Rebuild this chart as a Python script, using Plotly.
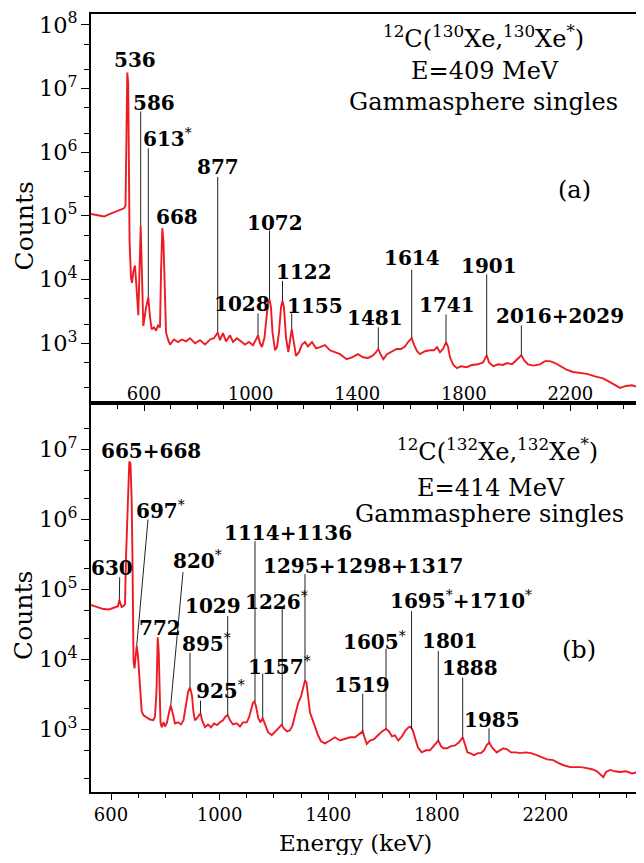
import numpy as np
import plotly.graph_objects as go

# ---------------- Panel (a): 12C(130Xe,130Xe*) spectrum (energy keV, log10 counts) -------------
top_energy = [401.1, 434.9, 450, 472.4, 502.4, 525, 530.6, 533.2, 535.1, 537.3, 540.7, 543, 544.8,
              545.9, 551.2, 555, 560.6, 566.2, 571.9, 578.6, 587.6, 592.5, 597.4, 607.5, 616.1, 622.5,
              628.9, 637.5, 645, 652.5, 660, 663.8, 668.7, 673.2, 676.9, 682.6, 690, 697.6, 712.6,
              727.6, 742.6, 757.6, 772.6, 791.4, 810.1, 828.9, 847.7, 862.7, 876.5, 885.2, 896.4,
              907.7, 922.7, 934, 949, 964, 979, 994, 1009, 1020.3, 1027.8, 1035.3, 1042.8, 1052.2,
              1059.7, 1065.3, 1070.9, 1076.5, 1082.2, 1091.6, 1099, 1106.6, 1114, 1119.7, 1125.3,
              1132.8, 1141.5, 1149, 1154.2, 1161, 1170.4, 1181.6, 1192.9, 1204.1, 1215.4, 1230.4,
              1245.4, 1260.4, 1279.2, 1297.9, 1316.7, 1335.5, 1360.6, 1380.5, 1403, 1421.8, 1440.5,
              1459.3, 1470.6, 1479.2, 1487.4, 1498, 1511.8, 1526.8, 1548.2, 1564.4, 1579.4, 1590.6,
              1604.5, 1613.1, 1624.4, 1635.6, 1654.4, 1673.2, 1688.2, 1699.4, 1710.7, 1722, 1733.2,
              1740.7, 1748.2, 1760.6, 1774.5, 1789.5, 1810.9, 1830.8, 1853.3, 1872.1, 1885.9,
              1894.6, 1910.7, 1928.3, 1947.1, 1962.1, 1980.9, 1995.9, 2016, 2027, 2041, 2060.8,
              2086, 2104.7, 2123.5, 2142.2, 2161, 2183.5, 2209.8, 2236, 2262.3, 2292.3, 2322.3,
              2348.6, 2371.1, 2386.1, 2408.6, 2431.1, 2453.7, 2476]
top_log_counts = [5.03, 5.00, 4.99, 5.03, 5.08, 5.12, 5.16, 5.98, 6.92, 7.25, 7.08, 6.30, 5.20,
                  4.58, 4.03, 3.95, 4.14, 4.22, 3.875, 3.44, 4.84, 3.80, 3.27, 3.56, 3.72, 3.41,
                  3.22, 3.25, 3.20, 3.28, 3.25, 4.11, 4.81, 4.58, 3.80, 3.17, 3.06, 2.98, 3.06,
                  3.02, 3.06, 3.03, 3.08, 3.00, 3.05, 2.98, 3.06, 3.08, 3.17, 3.05, 3.16,
                  3.03, 3.125, 3.02, 3.08, 3.03, 2.98, 3.02, 2.97, 3.06, 3.125, 3.00, 2.94, 3.09,
                  3.41, 3.64, 3.69, 3.56, 3.17, 2.89, 2.94, 3.17, 3.56, 3.67, 3.56,
                  3.09, 2.86, 3.09, 3.22, 3.05, 2.80, 2.86, 2.98, 3.02, 2.95, 3.02,
                  2.92, 2.94, 2.97, 2.89, 2.86, 2.83, 2.75, 2.78, 2.83, 2.78, 2.77,
                  2.81, 2.86, 2.91, 2.83, 2.75, 2.83, 2.86, 2.91, 2.91, 2.95, 3.02,
                  3.08, 2.98, 2.875, 2.83, 2.875, 2.89, 2.89, 2.94, 2.86, 2.91, 3.016,
                  2.95, 2.78, 2.66, 2.61, 2.64, 2.625, 2.66, 2.67, 2.70, 2.81,
                  2.70, 2.64, 2.67, 2.66, 2.69, 2.67, 2.73, 2.81, 2.73, 2.67, 2.65,
                  2.67, 2.72, 2.72, 2.69, 2.64, 2.59, 2.55, 2.53, 2.52, 2.48, 2.45,
                  2.39, 2.33, 2.30, 2.33, 2.34, 2.31, 2.34]

top_labels = ["536", "586", "613<sup>*</sup>", "877", "668", "1072", "1122", "1028", "1155",
              "1481", "1614", "1741", "1901", "2016+2029"]
top_label_energy = [564.4, 637.5, 690, 877.7, 723.8, 1091.6, 1198.5, 967.7, 1241.7,
                    1466.8, 1605.6, 1735.1, 1894.6, 2161]
top_label_log = [7.445, 6.766, 6.22, 5.77, 4.99, 4.89, 4.125, 3.61, 3.586,
                 3.40, 4.336, 3.60, 4.22, 3.43]
top_mark_energy = [587.6, 616.1, 876.5, 1070.9, 1119.7, 1027.8, 1154.2, 1479.2, 1604.5,
                   1733.2, 1885.9, 2016]
top_mark_top = [6.64, 6.06, 5.61, 4.77, 3.98, 3.47, 3.47, 3.25, 4.156, 3.453, 4.08, 3.28]
top_mark_bottom = [4.84, 3.72, 3.17, 3.69, 3.67, 3.125, 3.22, 2.91, 3.08, 3.016, 2.81, 2.81]

# ---------------- Panel (b): 12C(132Xe,132Xe*) spectrum -------------
bot_energy = [526.3, 548.4, 571.6, 592.6, 614.7, 625.8, 630.6, 635, 639.4, 644.2, 651.6, 655.2,
              661.5, 665.2, 667.4, 671.8, 676.2, 679.2, 681, 682.9, 686.6, 690.2, 694.7, 699.4,
              705, 713.1, 719.7, 731.5, 743.6, 755.8, 762.1, 767.6, 772, 775.7, 778.6, 782.3,
              786.7, 793.4, 798.9, 806.3, 813.6, 819.9, 826.5, 835.7, 846.8, 857.8, 867, 876.2,
              883.6, 891, 898.3, 903.9, 909.4, 916.8, 924.1, 929.7, 935.2, 946.2, 957.3, 968.3,
              979.4, 990.4, 1001.5, 1012.5, 1021.7, 1029.8, 1038.3, 1049.4, 1063, 1075.1, 1086.2,
              1099.8, 1108.3, 1115.7, 1123, 1128.5, 1134.1, 1142.5, 1150.6, 1158.7, 1167.2,
              1178.3, 1191.9, 1204, 1215.1, 1228.7, 1237.2, 1248.2, 1259.3, 1268.5, 1277.7,
              1289.9, 1299.8, 1307.2, 1314.5, 1320, 1325.5, 1332.9, 1340.3, 1351.3, 1362.4,
              1373.5, 1388.2, 1406.6, 1425.1, 1443.5, 1461.9, 1480.3, 1498.7, 1513.4, 1527.1,
              1533.7, 1541.8, 1554, 1568.7, 1583.4, 1598.2, 1612.9, 1624, 1635, 1646, 1658.2,
              1671.8, 1684.7, 1696, 1704, 1712, 1721, 1730.8, 1744.4, 1760.2, 1775, 1789.7,
              1805.5, 1815.5, 1824, 1837.6, 1852.3, 1867, 1881.8, 1895.4, 1903.9, 1913.1, 1922.3,
              1937, 1951.8, 1962.8, 1973.9, 1983.1, 1993.4, 2003.3, 2020.6, 2032.8, 2044.9,
              2058.6, 2073.3, 2091.7, 2106.4, 2128.5, 2146.9, 2167.9, 2187.5, 2205.9, 2229.1,
              2246.4, 2264.8, 2290.6, 2312.7, 2331.1, 2352.1, 2371.6, 2390, 2404.8, 2413.3,
              2423.2, 2438, 2456.4, 2474.8, 2496.9, 2519, 2541.1, 2563.2]
bot_log_counts = [4.778, 4.75, 4.72, 4.714, 4.74, 4.76, 4.845, 4.79, 4.75, 4.757, 4.79, 5.46,
                  6.26, 6.68, 6.83, 6.80, 6.26, 5.40, 4.55, 3.98, 3.87, 4.05, 4.195, 4.05,
                  3.70, 3.256, 3.20, 3.17, 3.14, 3.13, 3.185, 3.555, 4.316, 4.12, 3.41, 3.10,
                  3.03, 3.10, 3.04, 3.10, 3.24, 3.34, 3.24, 3.085, 3.10, 3.07, 3.13, 3.33,
                  3.53, 3.60, 3.48, 3.24, 3.13, 3.16, 3.21, 3.23, 3.13, 3.03, 3.07, 3.03,
                  3.085, 3.06, 3.10, 3.13, 3.185, 3.20, 3.13, 3.07, 3.085, 3.04, 3.10,
                  3.10, 3.17, 3.30, 3.38, 3.40, 3.33, 3.16, 3.10, 3.16, 3.07,
                  2.96, 2.915, 2.96, 3.01, 3.064, 3.01, 2.97, 2.986, 3.057, 3.20,
                  3.38, 3.47, 3.58, 3.70, 3.67, 3.48, 3.24, 3.16, 3.03, 2.915,
                  2.83, 2.80, 2.84, 2.886, 2.84, 2.86, 2.886, 2.886, 2.93, 2.97,
                  2.886, 2.79, 2.84, 2.86, 2.915, 2.97, 3.007, 2.97, 2.90, 2.915, 2.84,
                  2.90, 2.986, 3.03, 3.04, 2.98, 2.86, 2.74, 2.67, 2.70, 2.70, 2.76,
                  2.84, 2.76, 2.73, 2.73, 2.76, 2.77, 2.815, 2.886, 2.77, 2.67, 2.66,
                  2.63, 2.66, 2.66, 2.70, 2.77, 2.81, 2.74, 2.67, 2.70, 2.73,
                  2.715, 2.67, 2.67, 2.66, 2.67, 2.66, 2.63, 2.60, 2.57, 2.56,
                  2.52, 2.49, 2.46, 2.46, 2.46, 2.445, 2.43, 2.40, 2.346, 2.317,
                  2.39, 2.42, 2.40, 2.39, 2.40, 2.37, 2.39, 2.37]

bot_labels = ["630", "665+668", "697<sup>*</sup>", "820<sup>*</sup>", "772", "1029",
              "895<sup>*</sup>", "925<sup>*</sup>", "1114+1136", "1226<sup>*</sup>",
              "1295+1298+1317", "1157<sup>*</sup>", "1695<sup>*</sup>+1710<sup>*</sup>",
              "1605<sup>*</sup>", "1801", "1888", "1519", "1985"]
bot_label_energy = [603.7, 745.5, 780.5, 916.8, 778.6, 975.7, 949.9, 1001.5, 1252, 1210.3,
                    1528.2, 1218.8, 1889, 1568.7, 1848.6, 1922.3, 1523.4, 2002.2]
bot_label_log = [5.304, 6.976, 6.13, 5.418, 4.444, 4.757, 4.23, 3.56, 5.81, 4.842,
                 5.34, 3.91, 4.85, 4.27, 4.26, 3.875, 3.64, 3.135]
bot_mark_top_energy = [632, 736.3, 865.2, 1029.8, 891, 929.7, 1130.4, 1230.6, 1314.5, 1158.7,
                       1707, 1612.9, 1805.5, 1895.4, 1527.1, 1992.3]
bot_mark_energy = [630.6, 694.7, 819.9, 1029.8, 891, 929.7, 1130.4, 1230.6, 1314.5, 1158.7,
                   1707, 1612.9, 1805.5, 1895.4, 1527.1, 1992.3]
bot_mark_top = [5.176, 6.0, 5.247, 4.62, 4.095, 3.41, 5.69, 4.72, 5.22, 3.80,
                4.69, 4.15, 4.12, 3.74, 3.51, 3.014]
bot_mark_bottom = [4.845, 4.195, 3.34, 3.20, 3.60, 3.23, 3.40, 3.064, 3.70, 3.16,
                   3.0, 3.007, 2.84, 2.886, 2.97, 2.81]

SPEC = "rgb(237,28,36)"
SERIF = "DejaVu Serif"

fig = go.Figure()
fig.add_trace(go.Scatter(x=top_energy, y=np.power(10.0, top_log_counts), mode="lines",
                         line=dict(color=SPEC, width=1.9), xaxis="x", yaxis="y",
                         showlegend=False, hoverinfo="skip"))
fig.add_trace(go.Scatter(x=bot_energy, y=np.power(10.0, bot_log_counts), mode="lines",
                         line=dict(color=SPEC, width=1.9), xaxis="x2", yaxis="y2",
                         showlegend=False, hoverinfo="skip"))

# marker lines
tx, ty = [], []
for e, t, b in zip(top_mark_energy, top_mark_top, top_mark_bottom):
    tx += [e, e, None]
    ty += [10 ** t, 10 ** b, None]
fig.add_trace(go.Scatter(x=tx, y=ty, mode="lines", line=dict(color="#222", width=1),
                         xaxis="x", yaxis="y", showlegend=False, hoverinfo="skip"))
bx, by = [], []
for et, e, t, b in zip(bot_mark_top_energy, bot_mark_energy, bot_mark_top, bot_mark_bottom):
    bx += [et, e, None]
    by += [10 ** t, 10 ** b, None]
fig.add_trace(go.Scatter(x=bx, y=by, mode="lines", line=dict(color="#222", width=1),
                         xaxis="x2", yaxis="y2", showlegend=False, hoverinfo="skip"))


def bold(txt):
    return f"<b>{txt}</b>".replace("<sup>*</sup>", "</b><sup>*</sup><b>")


ann = []
for txt, e, l in zip(top_labels, top_label_energy, top_label_log):
    ann.append(dict(x=e, y=l, xref="x", yref="y", text=bold(txt), showarrow=False,
                    xanchor="center", yanchor="middle",
                    font=dict(family=SERIF, size=20, color="black")))
for txt, e, l in zip(bot_labels, bot_label_energy, bot_label_log):
    ann.append(dict(x=e, y=l, xref="x2", yref="y2", text=bold(txt), showarrow=False,
                    xanchor="center", yanchor="middle",
                    font=dict(family=SERIF, size=20, color="black")))


def block(xr, yr, items):
    for text, x, y in items:
        ann.append(dict(x=x, y=y, xref=xr, yref=yr, text=text, showarrow=False,
                        xanchor="center", yanchor="middle",
                        font=dict(family=SERIF, size=24, color="black")))


block("x domain", "y domain", [
    ("<sup>12</sup>C(<sup>130</sup>Xe,<sup>130</sup>Xe<sup>*</sup>)", 0.709, 0.941),
    ("E=409 MeV", 0.713, 0.853),
    ("Gammasphere singles", 0.709, 0.775),
    ("(a)", 0.875, 0.547),
])
block("x2 domain", "y2 domain", [
    ("<sup>12</sup>C(<sup>132</sup>Xe,<sup>132</sup>Xe<sup>*</sup>)", 0.735, 0.880),
    ("E=414 MeV", 0.724, 0.782),
    ("Gammasphere singles", 0.720, 0.714),
    ("(b)", 0.882, 0.366),
])

# axis titles
for yy in [0.727, 0.2263]:
    ann.append(dict(x=-0.1211, y=yy, xref="paper", yref="paper", text="Counts", textangle=-90,
                    xanchor="center", yanchor="middle", showarrow=False,
                    font=dict(family=SERIF, size=25, color="black")))
ann.append(dict(x=0.4774, y=-0.0652, xref="paper", yref="paper", text="Energy (keV)",
                xanchor="center", yanchor="middle", showarrow=False,
                font=dict(family=SERIF, size=23, color="black")))

tickfont = dict(family=SERIF, size=18, color="black")
xcommon = dict(showgrid=False, zeroline=False, showline=True, linecolor="black", linewidth=1.5,
               mirror=True, ticks="outside", ticklen=6, tickcolor="black", tick0=600, dtick=400,
               minor=dict(ticks="outside", ticklen=4, dtick=100, tickcolor="black"),
               tickfont=tickfont, ticklabeloverflow="allow")
ycommon = dict(type="log", showgrid=False, zeroline=False, showline=True, linecolor="black",
               linewidth=1.5, ticks="outside", ticklen=8, tickcolor="black", dtick=1,
               exponentformat="power", minor=dict(ticks="outside", ticklen=5, dtick="D2",
                                                  tickcolor="black"),
               tickfont=tickfont, ticklabeloverflow="allow")

# page body has an 8px margin; compensate so the plot area sits where the reference has it
fig.update_layout(
    width=636, height=847, margin=dict(l=83, r=0, t=2, b=63),
    paper_bgcolor="white", plot_bgcolor="white", showlegend=False,
    xaxis=dict(domain=[0, 1], anchor="y", range=[401.1, 2476.2], ticklabelposition="inside",
               **xcommon),
    yaxis=dict(domain=[0.5, 1], anchor="x", range=[2.0625, 8.17], **ycommon),
    xaxis2=dict(domain=[0, 1], anchor="y2", range=[526.3, 2563.2], ticklabelstandoff=0,
                **xcommon),
    yaxis2=dict(domain=[0, 0.5], anchor="x2", range=[2.104, 7.666], **ycommon),
    annotations=ann,
)
fig.write_html("out.html")
